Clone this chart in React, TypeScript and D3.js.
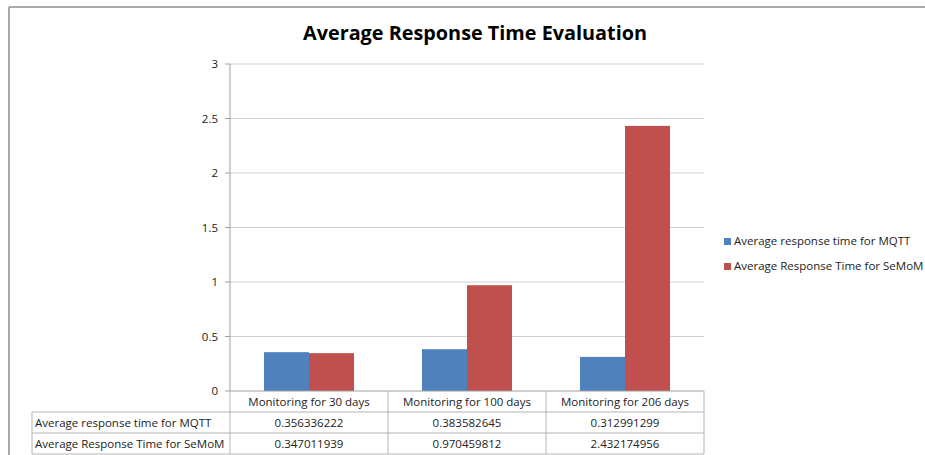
import React from "react";
import * as d3 from "d3";

const categories = ["Monitoring for 30 days", "Monitoring for 100 days", "Monitoring for 206 days"];
const seriesNames = ["Average response time for MQTT", "Average Response Time for SeMoM"];
const mqttValues = [0.356336222, 0.383582645, 0.312991299];
const semomValues = [0.347011939, 0.970459812, 2.432174956];
const mqttLabels = ["0.356336222", "0.383582645", "0.312991299"];
const semomLabels = ["0.347011939", "0.970459812", "2.432174956"];
const yTicks = [0, 0.5, 1, 1.5, 2, 2.5, 3];
const colors = ["#4F81BD", "#C0504D"];

const W = 925, H = 455;
const left = 230, right = 704, top = 64, bottom = 391;
const font = "Open Sans, 'Liberation Sans', sans-serif";

export default function App() {
  const x = d3.scaleBand().domain(categories).range([left, right]).paddingInner(0).paddingOuter(0);
  const y = d3.scaleLinear().domain([0, 3]).range([bottom, top]);
  const inner = d3.scaleBand().domain(["0", "1"]).range([0, x.bandwidth()]).paddingOuter(0.755).paddingInner(0);
  const series = [mqttValues, semomValues];
  const labels = [mqttLabels, semomLabels];
  const rowY = [391, 412, 433, 454];
  const tableLeft = 32;
  const fmt = (v: number) => (v === 0 ? "0" : String(v));
  return (
    <svg width={W} height={H} style={{ position: "absolute", left: 0, top: 0, background: "#fff" }} fontFamily={font}>
      <rect x={0} y={0} width={W} height={H} fill="#fff" />
      <line x1={9} y1={7} x2={W} y2={7} stroke="#8c8c8c" strokeWidth={1.5} />
      <line x1={9} y1={7} x2={9} y2={H} stroke="#8c8c8c" strokeWidth={1.5} />
      <text x={475} y={40} textAnchor="middle" fontSize={20} fontWeight="bold" fill="#000" textLength={344} lengthAdjust="spacingAndGlyphs">
        Average Response Time Evaluation
      </text>
      {yTicks.map((t) => (
        <g key={t}>
          {t > 0 && <line x1={left} x2={right} y1={y(t)} y2={y(t)} stroke="#d0d0d0" strokeWidth={1} />}
          <line x1={left - 5} x2={left} y1={y(t)} y2={y(t)} stroke="#a0a0a0" />
          <text x={218} y={y(t) + 4} textAnchor="end" fontSize={11.5} fill="#222">{fmt(t)}</text>
        </g>
      ))}
      <line x1={left} x2={left} y1={top} y2={bottom} stroke="#a0a0a0" />
      {categories.map((c, i) =>
        series.map((s, k) => (
          <rect key={c + k} x={(x(c) as number) + (inner(String(k)) as number)} y={y(s[i])}
            width={inner.bandwidth()} height={bottom - y(s[i])} fill={colors[k]} />
        ))
      )}
      {/* data table */}
      <line x1={left} x2={right} y1={bottom} y2={bottom} stroke="#a0a0a0" />
      {rowY.slice(1).map((ry) => (
        <line key={ry} x1={tableLeft} x2={right} y1={ry} y2={ry} stroke="#b4b4b4" />
      ))}
      <line x1={tableLeft} x2={tableLeft} y1={rowY[1]} y2={rowY[3]} stroke="#b4b4b4" />
      {[left, ...categories.map((c) => (x(c) as number) + x.bandwidth())].map((vx) => (
        <line key={vx} x1={vx} x2={vx} y1={bottom} y2={rowY[3]} stroke="#b4b4b4" />
      ))}
      {categories.map((c) => (
        <text key={c} x={(x(c) as number) + x.bandwidth() / 2} y={rowY[0] + 15} textAnchor="middle" fontSize={11.5} fill="#222">{c}</text>
      ))}
      {seriesNames.map((n, k) => (
        <g key={n}>
          <text x={tableLeft + 3} y={rowY[k + 1] + 15} fontSize={11.5} fill="#222">{n}</text>
          {categories.map((c, i) => (
            <text key={c} x={(x(c) as number) + x.bandwidth() / 2} y={rowY[k + 1] + 15} textAnchor="middle" fontSize={11.5} fill="#222">{labels[k][i]}</text>
          ))}
        </g>
      ))}
      {/* legend */}
      {seriesNames.map((n, k) => (
        <g key={"lg" + n}>
          <rect x={724} y={238 + k * 25} width={7} height={7} fill={colors[k]} />
          <text x={734} y={245 + k * 25} fontSize={11.5} fill="#222">{n}</text>
        </g>
      ))}
    </svg>
  );
}
